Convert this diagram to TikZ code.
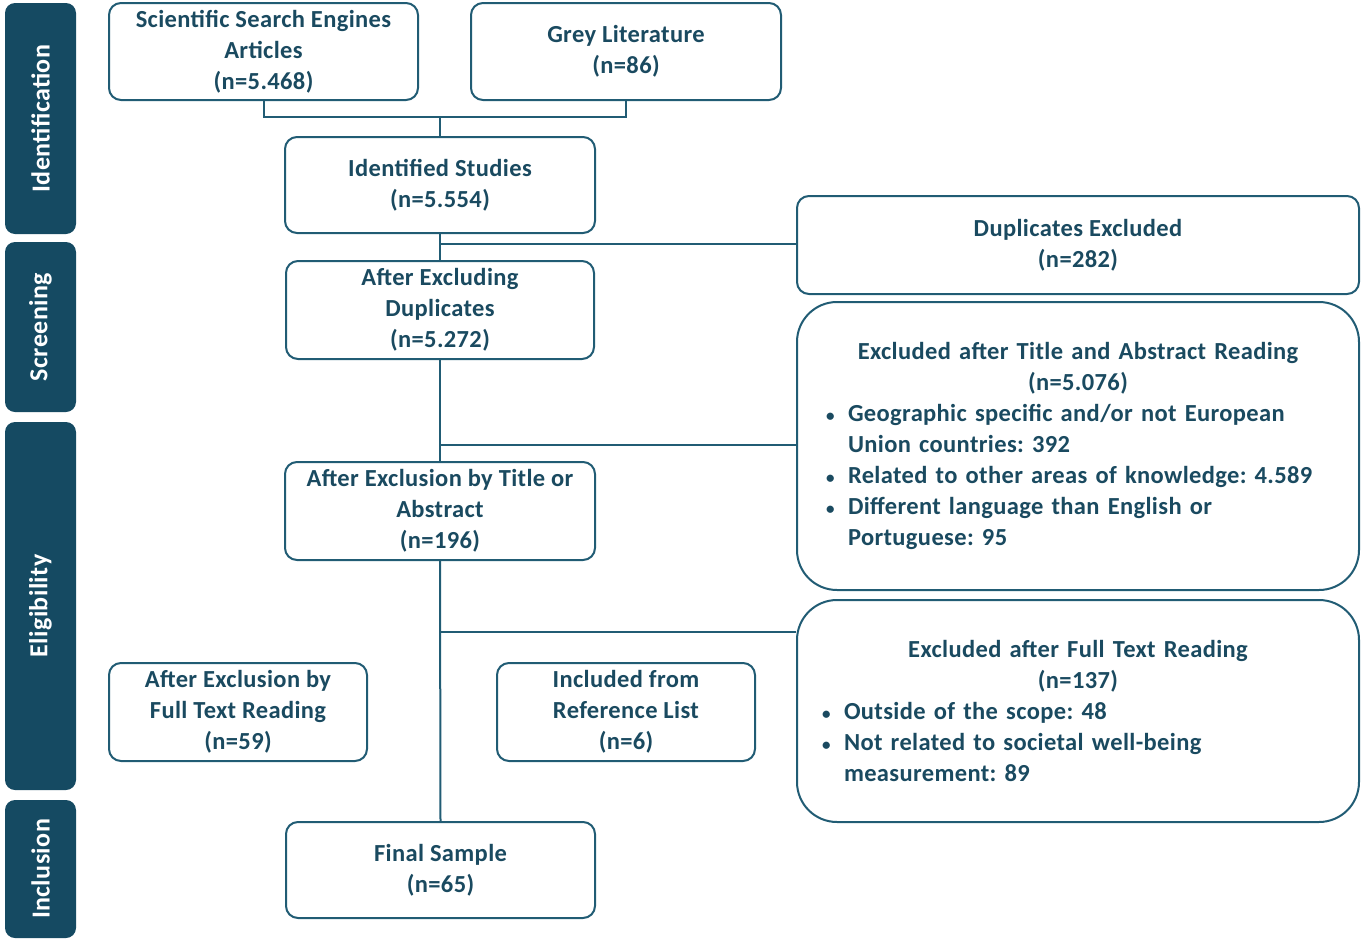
\documentclass[tikz,border=0pt]{standalone}
\usepackage{fontspec}
\setmainfont{Carlito}[LetterSpace=1.5]
\definecolor{barcol}{HTML}{154A62}
\definecolor{linecol}{HTML}{215C74}
\definecolor{txtcol}{HTML}{1A4A60}
\newcommand{\bitem}[1]{\par\hangindent=24pt\hangafter=1\noindent
  \hbox to 24pt{\hskip2pt{\fontsize{17}{17}\selectfont\textbullet}\hfil}#1\par}
\tikzset{
  box/.style={draw=linecol, line width=2pt, rounded corners=12pt, fill=white,
    text=txtcol, font=\fontsize{24.5}{31}\selectfont\bfseries\frenchspacing,
    align=center, inner sep=0pt},
  bigbox/.style={box, rounded corners=40pt, align=left},
  phase/.style={fill=barcol, rounded corners=10pt, text=white, rotate=90,
    font=\fontsize{26}{28}\selectfont\bfseries, inner sep=0pt, minimum height=71},
  link/.style={draw=linecol, line width=2pt}
}
\begin{document}
\begin{tikzpicture}[x=1pt,y=-1pt]
\useasboundingbox (0,0) rectangle (1361,940);

% phase bars on the left
\node[phase, minimum width=231] (pid) at (40.5,118.5) {Identification};
\node[phase, minimum width=170] (psc) at (40.5,327) {Screening};
\node[phase, minimum width=368] (pel) at (40.5,606) {Eligibility};
\node[phase, minimum width=138] (pin) at (40.5,869) {Inclusion};

% flow boxes
\node[box, minimum width=309, minimum height=97] (sse) at (263.5,51.5)
  {Scientific Search Engines\\Articles\\(n=5.468)};
\node[box, minimum width=310, minimum height=97] (grey) at (626,51.5)
  {Grey Literature\\(n=86)};
\node[box, minimum width=310, minimum height=96] (ident) at (440,185)
  {Identified Studies\\(n=5.554)};
\node[box, minimum width=308, minimum height=98] (dedup) at (440,310)
  {After Excluding\\Duplicates\\(n=5.272)};
\node[box, minimum width=310, minimum height=98] (title) at (440,511)
  {After Exclusion by Title or\\Abstract\\(n=196)};
\node[box, minimum width=258, minimum height=98] (fulltxt) at (238,712)
  {After Exclusion by\\Full Text Reading\\(n=59)};
\node[box, minimum width=258, minimum height=98] (reflist) at (626,712)
  {Included from\\Reference List\\(n=6)};
\node[box, minimum width=309, minimum height=96] (final) at (440.5,870)
  {Final Sample\\(n=65)};

% exclusion boxes on the right
\node[box, minimum width=562, minimum height=98] (dupx) at (1078,245)
  {Duplicates Excluded\\(n=282)};
\node[bigbox, minimum width=562, minimum height=288, text width=508] (tax) at (1078,446)
  {{\centering Excluded after Title and Abstract Reading\\(n=5.076)\par}%
   \bitem{Geographic specific and/or not European\newline Union countries: 392}%
   \bitem{Related to other areas of knowledge: 4.589}%
   \bitem{Different language than English or\newline Portuguese: 95}};
\node[bigbox, minimum width=562, minimum height=222, text width=516] (ftx) at (1078,711)
  {{\centering Excluded after Full Text Reading\\(n=137)\par}%
   \bitem{Outside of the scope: 48}%
   \bitem{Not related to societal well-being\newline measurement: 89}};

% connectors
\coordinate (j1) at (440,117);
\coordinate (j2) at (440,244);
\coordinate (j3) at (440,445);
\coordinate (j4) at (440,632);
\draw[link] (sse.south) |- (j1) -| (grey.south);
\draw[link] (j1) -- (ident.north);
\draw[link] (ident.south) -- (dedup.north);
\draw[link] (j2) -- (j2 -| dupx.west);
\draw[link] (dedup.south) -- (title.north);
\draw[link] (j3) -- (j3 -| tax.west);
\draw[link] (title.south) -- (final.north);
\draw[link] (j4) -- (j4 -| ftx.west);
\end{tikzpicture}
\end{document}
